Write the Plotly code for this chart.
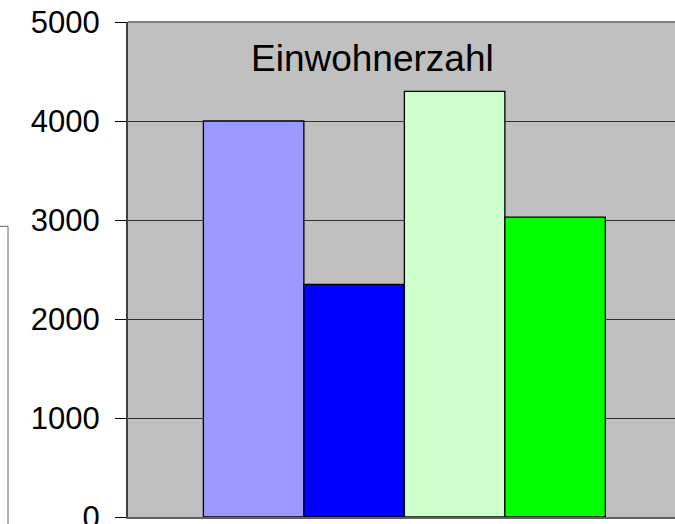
import plotly.graph_objects as go

categories = ["Einwohnerzahl"]
series_names = ["Ort 1", "Ort 2", "Ort 3", "Ort 4"]
series_values = [[4000], [2350], [4300], [3030]]
series_colors = ["#9999FF", "#0000FF", "#CCFFCC", "#00FF00"]
y_ticks = [0, 1000, 2000, 3000, 4000, 5000]

W, H = 675, 524
L, R, T, B = 128, 0, 21.5, 7
plot_w = W - L - R
plot_h = H - T - B

fig = go.Figure()
for name, vals, col in zip(series_names, series_values, series_colors):
    fig.add_trace(go.Bar(
        x=[0], y=vals, name=name,
        marker=dict(color=col, line=dict(color="#000000", width=1.3)),
        showlegend=False,
    ))

full_cat = 552.75
fig.update_layout(
    width=W, height=H,
    margin=dict(l=L, r=R, t=T, b=B, pad=0),
    paper_bgcolor="#FFFFFF",
    plot_bgcolor="#C0C0C0",
    barmode="group",
    bargap=0.2727,
    bargroupgap=0,
    font=dict(family="Liberation Sans, Arial, sans-serif", color="#000000"),
    xaxis=dict(
        range=[-0.5, -0.5 + plot_w / full_cat],
        showticklabels=False, ticks="", showgrid=False, zeroline=False,
        showline=True, linecolor="#606060", linewidth=2, mirror=False,
        automargin=False, fixedrange=True,
    ),
    yaxis=dict(
        range=[0, 5000], tickvals=y_ticks, ticktext=[str(v) for v in y_ticks],
        ticks="outside", ticklen=11, tickwidth=1, tickcolor="#000000",
        tickfont=dict(size=31, color="#000000"),
        ticklabelstandoff=9,
        ticklabeloverflow="allow",
        showgrid=True, gridcolor="#303030", gridwidth=1,
        zeroline=False,
        showline=True, linecolor="#404040", linewidth=2,
        automargin=False, fixedrange=True,
    ),
)

# plot area top border
fig.add_shape(type="line", xref="paper", yref="paper", x0=0, x1=1, y0=1, y1=1,
              line=dict(color="#808080", width=2))

# partial legend box visible at left edge
lx = (8 - L) / plot_w
ly = (517 - 226) / plot_h
fig.add_shape(type="line", xref="paper", yref="paper", x0=-0.3, x1=lx, y0=ly, y1=ly,
              line=dict(color="#606060", width=1))
fig.add_shape(type="line", xref="paper", yref="paper", x0=lx, x1=lx, y0=ly, y1=-0.05,
              line=dict(color="#606060", width=1))

fig.add_annotation(
    text=categories[0], xref="paper", yref="paper",
    x=(372.8 - L) / plot_w, y=(517 - 58) / plot_h,
    xanchor="center", yanchor="middle", showarrow=False,
    font=dict(size=37, color="#000000"),
)

fig.write_html(
    "out.html",
    config={"displayModeBar": False, "staticPlot": True},
    post_script="document.body.style.margin='0';document.body.style.overflow='hidden';",
)
